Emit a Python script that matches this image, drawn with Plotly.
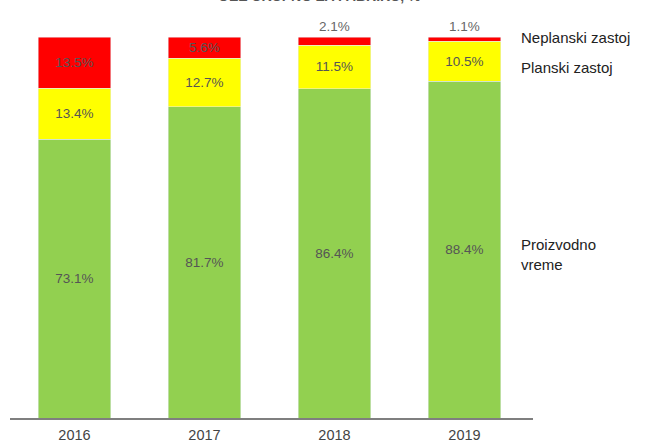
import plotly.graph_objects as go

years = ["2016", "2017", "2018", "2019"]
proizvodno = [73.1, 81.7, 86.4, 88.4]
planski = [13.4, 12.7, 11.5, 10.5]
neplanski = [13.5, 5.6, 2.1, 1.1]
neplanski_pos = ["inside", "inside", "outside", "outside"]
series_names = ["Proizvodno vreme", "Planski zastoj", "Neplanski zastoj"]
label_text = ["Proizvodno<br>vreme", "Planski zastoj", "Neplanski zastoj"]

FONT = "Liberation Sans, Arial, sans-serif"


def fmt(vals):
    return [f"{v:.1f}%" for v in vals]


txtfont = dict(family=FONT, size=13.5, color="#555555")

fig = go.Figure()
fig.add_trace(go.Bar(x=years, y=proizvodno, name=series_names[0], marker_color="#92D050",
                     text=fmt(proizvodno), textposition="inside", insidetextanchor="middle",
                     textfont=txtfont, constraintext="none", width=0.56))
fig.add_trace(go.Bar(x=years, y=planski, name=series_names[1], marker_color="#FFFF00",
                     text=fmt(planski), textposition="inside", insidetextanchor="middle",
                     textfont=txtfont, constraintext="none", width=0.56))
fig.add_trace(go.Bar(x=years, y=neplanski, name=series_names[2], marker_color="#FF0000",
                     text=fmt(neplanski), textposition=neplanski_pos, insidetextanchor="middle",
                     textfont=txtfont,
                     outsidetextfont=dict(family=FONT, size=13.5, color="#666666"),
                     constraintext="none", cliponaxis=False, width=0.56))

# series labels at the right of the last bar
label_y = [42.8, 92.1, 99.9]
for t, yv in zip(label_text, label_y):
    fig.add_annotation(x=0.973, xref="paper", y=yv, yref="y", text=t, showarrow=False,
                       xanchor="left", yanchor="middle", align="left",
                       font=dict(family=FONT, size=15, color="#222222"))

# title (cut off at the top in the reference)
fig.add_annotation(x=0.591, xref="paper", y=1.082, yref="paper", text="<b>OEE UKUPNO ZA FABRIKU, %</b>",
                   showarrow=False, xanchor="center", yanchor="bottom",
                   font=dict(family=FONT, size=14, color="#555555"))

fig.update_layout(
    width=646, height=444, barmode="stack", showlegend=False,
    margin=dict(l=10, r=113, t=37, b=26, autoexpand=False),
    plot_bgcolor="white", paper_bgcolor="white",
)
fig.update_xaxes(range=[-0.496, 3.527], showline=True, linecolor="#7f7f7f", linewidth=2,
                 ticks="", showgrid=False, automargin=False, ticklabelstandoff=3,
                 tickfont=dict(family=FONT, size=14.5, color="#444444"))
fig.update_yaxes(range=[0, 100], visible=False, showgrid=False, automargin=False)

fig.write_html("out.html", config={"displayModeBar": False},
               post_script="document.body.style.margin='0';document.body.style.overflow='hidden';")
